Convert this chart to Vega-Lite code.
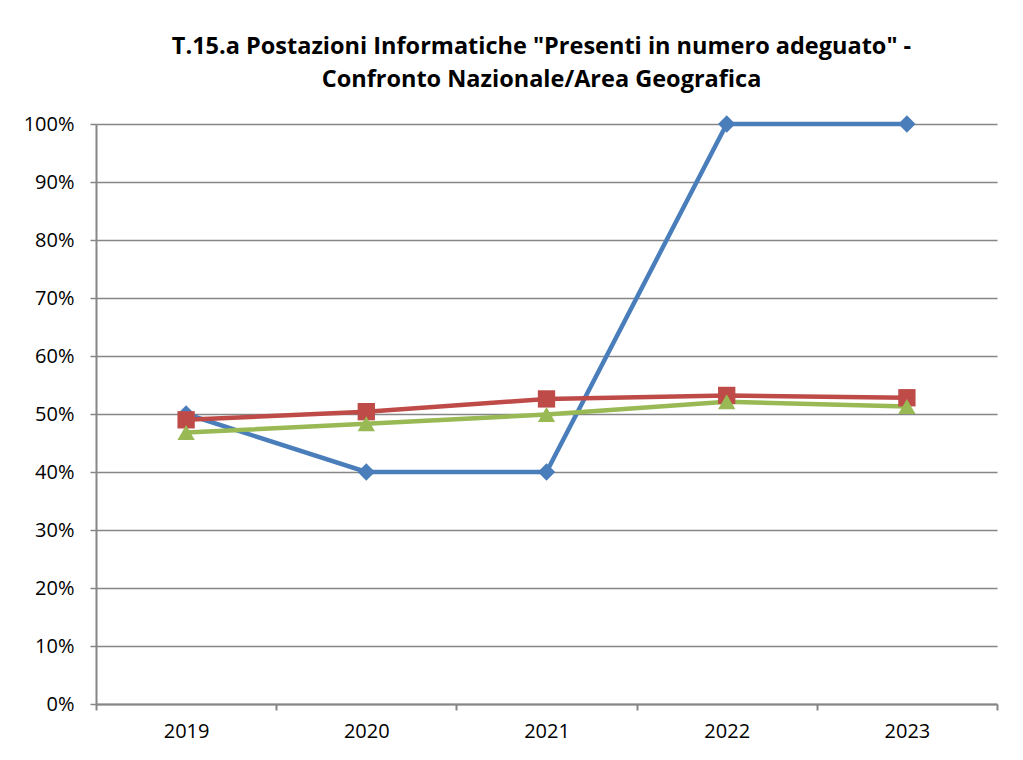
{
  "$schema": "https://vega.github.io/schema/vega-lite/v6.json",
  "autosize": {"type": "none"},
  "width": 901,
  "height": 580,
  "padding": {"left": 96, "top": 124, "right": 26, "bottom": 56},
  "background": "white",
  "title": {
    "text": ["T.15.a Postazioni Informatiche \"Presenti in numero adeguato\" -", "Confronto Nazionale/Area Geografica"],
    "font": "Open Sans",
    "fontSize": 23.5,
    "fontWeight": "bold",
    "color": "black",
    "anchor": "middle",
    "dx": -5,
    "offset": 23,
    "lineHeight": 33
  },
  "data": {
    "values": [
      {"serie": "Istituto", "anno": 2019, "valore": 0.50},
      {"serie": "Istituto", "anno": 2020, "valore": 0.40},
      {"serie": "Istituto", "anno": 2021, "valore": 0.40},
      {"serie": "Istituto", "anno": 2022, "valore": 1.00},
      {"serie": "Istituto", "anno": 2023, "valore": 1.00},
      {"serie": "Area Geografica", "anno": 2019, "valore": 0.490},
      {"serie": "Area Geografica", "anno": 2020, "valore": 0.504},
      {"serie": "Area Geografica", "anno": 2021, "valore": 0.526},
      {"serie": "Area Geografica", "anno": 2022, "valore": 0.532},
      {"serie": "Area Geografica", "anno": 2023, "valore": 0.528},
      {"serie": "Nazionale", "anno": 2019, "valore": 0.468},
      {"serie": "Nazionale", "anno": 2020, "valore": 0.483},
      {"serie": "Nazionale", "anno": 2021, "valore": 0.499},
      {"serie": "Nazionale", "anno": 2022, "valore": 0.521},
      {"serie": "Nazionale", "anno": 2023, "valore": 0.513}
    ]
  },
  "encoding": {
    "x": {
      "field": "anno",
      "type": "quantitative",
      "scale": {"domain": [2018.5, 2023.5], "nice": false, "zero": false},
      "axis": {
        "title": null,
        "grid": false,
        "values": [2018.5, 2019, 2019.5, 2020, 2020.5, 2021, 2021.5, 2022, 2022.5, 2023, 2023.5],
        "labelExpr": "datum.value % 1 === 0 ? format(datum.value, 'd') : ''",
        "labelOverlap": false,
        "labelFont": "Open Sans",
        "labelFontSize": 20,
        "labelColor": "black",
        "labelPadding": 11,
        "domainColor": "#868686",
        "domainWidth": 2,
        "tickColor": "#868686",
        "tickWidth": 2,
        "tickSize": 6,
        "tickOpacity": {"condition": {"test": "datum.value % 1 === 0", "value": 0}, "value": 1}
      }
    },
    "y": {
      "field": "valore",
      "type": "quantitative",
      "scale": {"domain": [0, 1], "nice": false},
      "axis": {
        "title": null,
        "values": [0, 0.1, 0.2, 0.3, 0.4, 0.5, 0.6, 0.7, 0.8, 0.9, 1],
        "format": ".0%",
        "grid": true,
        "gridColor": "#868686",
        "gridWidth": 1.5,
        "domainColor": "#868686",
        "domainWidth": 2,
        "tickColor": "#868686",
        "tickWidth": 1.5,
        "tickSize": 6,
        "labelFont": "Open Sans",
        "labelFontSize": 20,
        "labelColor": "black",
        "labelPadding": 16
      }
    },
    "color": {
      "field": "serie",
      "type": "nominal",
      "scale": {"domain": ["Istituto", "Area Geografica", "Nazionale"], "range": ["#4A7EBB", "#BE4B48", "#98B954"]},
      "legend": null
    }
  },
  "layer": [
    {
      "mark": {"type": "line", "strokeWidth": 4.5},
      "encoding": {"detail": {"field": "serie"}}
    },
    {
      "mark": {"type": "point", "filled": true, "opacity": 1, "size": 300},
      "encoding": {
        "shape": {
          "field": "serie",
          "type": "nominal",
          "scale": {"domain": ["Istituto", "Area Geografica", "Nazionale"], "range": ["diamond", "square", "triangle-up"]},
          "legend": null
        }
      }
    }
  ],
  "config": {"view": {"stroke": null}}
}
